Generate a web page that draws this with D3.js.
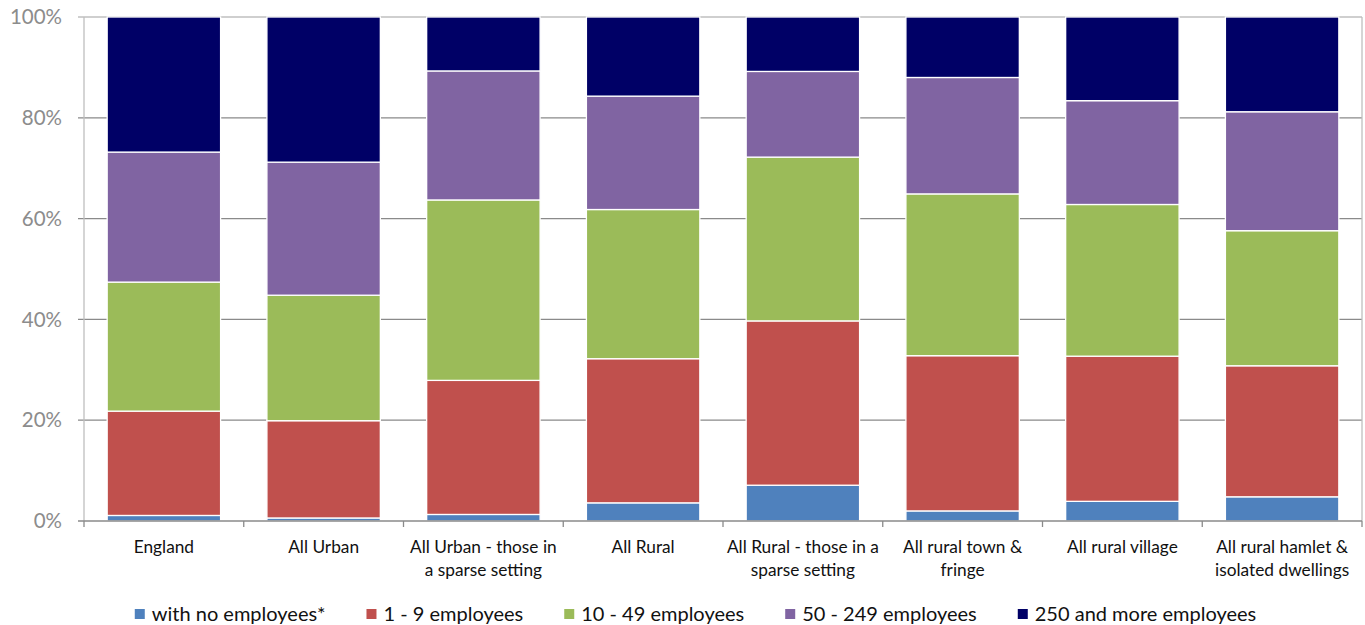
<!DOCTYPE html>
<html>
<head>
<meta charset="utf-8">
<script src="https://cdn.jsdelivr.net/npm/d3@7"></script>
<style>
  body { margin: 0; background: #fff; }
  text { font-family: Lato, "Open Sans", sans-serif; }
</style>
</head>
<body>
<div id="chart"></div>
<script>
/* DATA */
const categories = [
  ["England"],
  ["All Urban"],
  ["All Urban - those in", "a sparse setting"],
  ["All Rural"],
  ["All Rural - those in a", "sparse setting"],
  ["All rural town &", "fringe"],
  ["All rural village"],
  ["All rural hamlet &", "isolated dwellings"]
];
const seriesNames = ["with no employees*", "1 - 9 employees", "10 - 49 employees", "50 - 249 employees", "250 and more employees"];
const noEmployees  = [1.1, 0.6, 1.3, 3.6, 7.1, 2.0, 3.9, 4.8];
const emp1to9      = [20.7, 19.3, 26.6, 28.6, 32.6, 30.8, 28.8, 26.0];
const emp10to49    = [25.6, 24.9, 35.8, 29.6, 32.5, 32.1, 30.1, 26.8];
const emp50to249   = [25.8, 26.4, 25.6, 22.5, 17.0, 23.1, 20.6, 23.6];
const emp250plus   = [26.8, 28.8, 10.7, 15.7, 10.8, 12.0, 16.6, 18.8];
const yTicks = [0, 20, 40, 60, 80, 100];

const colors = ["#4F81BD", "#C0504D", "#9BBB59", "#8064A2", "#000066"];

/* LAYOUT */
const width = 1365, height = 625;
const plotLeft = 84, plotRight = 1362, plotTop = 17, plotBottom = 521;

const svg = d3.select("#chart").append("svg")
  .attr("width", width).attr("height", height);

const keys = categories.map(c => c.join(" "));
const rows = keys.map((k, i) => ({
  cat: k,
  s0: noEmployees[i], s1: emp1to9[i], s2: emp10to49[i], s3: emp50to249[i], s4: emp250plus[i]
}));

// normalise each bar to 100%
const stack = d3.stack().keys(["s0", "s1", "s2", "s3", "s4"]).offset(d3.stackOffsetExpand);
const stacked = stack(rows);

const x = d3.scaleBand().domain(keys).range([plotLeft, plotRight]).paddingInner(0.29).paddingOuter(0.145);
const xBoundary = d3.scaleLinear().domain([0, keys.length]).range([plotLeft, plotRight]);
const y = d3.scaleLinear().domain([0, 1]).range([plotBottom, plotTop]);

// gridlines
svg.append("g")
  .selectAll("line")
  .data(yTicks.filter(t => t > 0 && t < 100))
  .join("line")
  .attr("x1", plotLeft - 6).attr("x2", plotRight)
  .attr("y1", d => y(d / 100)).attr("y2", d => y(d / 100))
  .attr("stroke", "#8a8a8a").attr("stroke-width", 1.3);

// plot border (top/right) and left axis
svg.append("line").attr("x1", plotLeft - 6).attr("x2", plotRight).attr("y1", plotTop).attr("y2", plotTop)
  .attr("stroke", "#bfbfbf").attr("stroke-width", 1.3);
svg.append("line").attr("x1", plotRight).attr("x2", plotRight).attr("y1", plotTop).attr("y2", plotBottom)
  .attr("stroke", "#bfbfbf").attr("stroke-width", 1.3);
svg.append("line").attr("x1", plotLeft).attr("x2", plotLeft).attr("y1", plotTop).attr("y2", plotBottom)
  .attr("stroke", "#bfbfbf").attr("stroke-width", 1.3);

// bars
svg.append("g")
  .selectAll("g")
  .data(stacked)
  .join("g")
  .attr("fill", (d, i) => colors[i])
  .selectAll("rect")
  .data(d => d)
  .join("rect")
  .attr("x", d => x(d.data.cat))
  .attr("width", x.bandwidth())
  .attr("y", d => y(d[1]))
  .attr("height", d => y(d[0]) - y(d[1]))
  .attr("stroke", "#fff")
  .attr("stroke-width", 1.3);

// x axis line and ticks
svg.append("line").attr("x1", plotLeft - 6).attr("x2", plotRight).attr("y1", plotBottom).attr("y2", plotBottom)
  .attr("stroke", "#8a8a8a").attr("stroke-width", 1.3);
svg.append("g")
  .selectAll("line")
  .data(d3.range(keys.length + 1))
  .join("line")
  .attr("x1", d => xBoundary(d)).attr("x2", d => xBoundary(d))
  .attr("y1", plotBottom).attr("y2", plotBottom + 6)
  .attr("stroke", "#8a8a8a").attr("stroke-width", 1.3);

// y labels
svg.append("g")
  .selectAll("text")
  .data(yTicks)
  .join("text")
  .attr("x", 62)
  .attr("y", d => y(d / 100))
  .attr("dy", "0.35em")
  .attr("text-anchor", "end")
  .style("font-size", "20.5px")
  .style("fill", "#8c8c8c")
  .text(d => d + "%");

// category labels
const catLabels = svg.append("g")
  .selectAll("text")
  .data(categories)
  .join("text")
  .attr("x", (d, i) => x(keys[i]) + x.bandwidth() / 2)
  .attr("y", 547)
  .attr("text-anchor", "middle")
  .style("font-size", "17.3px")
  .style("fill", "#111");
catLabels.selectAll("tspan")
  .data(d => d)
  .join("tspan")
  .attr("x", function() { return this.parentNode.getAttribute("x"); })
  .attr("dy", (d, i) => i === 0 ? "0.35em" : "22.5px")
  .text(d => d);

// legend
const legend = svg.append("g");
const items = legend.selectAll("g")
  .data(seriesNames)
  .join("g");
items.append("rect")
  .attr("width", 10).attr("height", 10)
  .attr("y", -5)
  .attr("fill", (d, i) => colors[i]);
items.append("text")
  .attr("x", 17)
  .attr("dy", "0.35em")
  .style("font-size", "20px")
  .style("fill", "#111")
  .text(d => d);
let cx = 0;
const gap = 41;
items.each(function() {
  const w = 17 + d3.select(this).select("text").node().getComputedTextLength();
  d3.select(this).attr("transform", `translate(${cx},0)`);
  cx += w + gap;
});
const totalW = cx - gap;
legend.attr("transform", `translate(${(width - totalW) / 2 + 13},614)`);
</script>
</body>
</html>
